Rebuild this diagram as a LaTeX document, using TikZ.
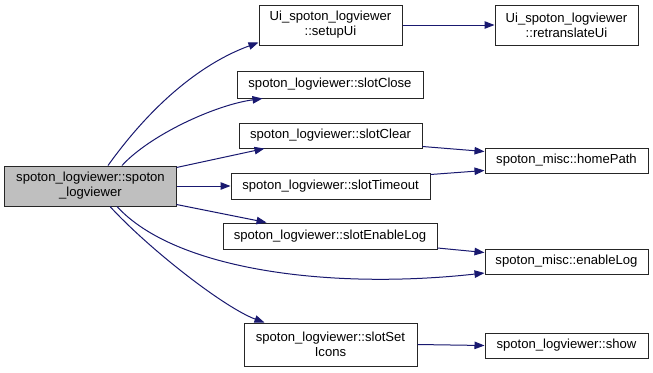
\documentclass[tikz,border=0pt]{standalone}
\usepackage{fontspec}
\setmainfont{Liberation Sans}
\usetikzlibrary{arrows.meta}
\definecolor{callblue}{HTML}{191970}
\definecolor{rootgray}{HTML}{BFBFBF}
\begin{document}
\begin{tikzpicture}[x=1bp,y=-1bp,line width=1bp,font=\fontsize{13.1bp}{15bp}\selectfont,
	fn/.style={draw=black!85,fill=white,inner sep=0pt,align=center,minimum height=25bp},
	call/.style={draw=callblue,-{Triangle[length=10bp,width=7.5bp]}}]
	\fill[white] (0,0) rectangle (653,372);
	\useasboundingbox (0,0) rectangle (653,372);
	\node[fn,fill=rootgray,minimum width=171bp,minimum height=40bp] (ctor) at (90.5,186) {spoton\_logviewer::spoton\\\_logviewer};
	\node[fn,minimum width=143bp,minimum height=40bp] (setupUi) at (330.5,25) {Ui\_spoton\_logviewer\\::setupUi};
	\node[fn,minimum width=143bp,minimum height=40bp] (retranslateUi) at (566.5,25) {Ui\_spoton\_logviewer\\::retranslateUi};
	\node[fn,minimum width=186bp,minimum height=27bp] (slotClose) at (330,84.5) {spoton\_logviewer::slotClose};
	\node[fn,minimum width=183bp] (slotClear) at (330.5,135.5) {spoton\_logviewer::slotClear};
	\node[fn,minimum width=199bp,minimum height=26bp] (slotTimeout) at (330.5,186) {spoton\_logviewer::slotTimeout};
	\node[fn,minimum width=163bp] (homePath) at (566.5,160.5) {spoton\_misc::homePath};
	\node[fn,minimum width=214bp,minimum height=26bp] (slotEnableLog) at (330,236) {spoton\_logviewer::slotEnableLog};
	\node[fn,minimum width=163bp] (enableLog) at (566.5,261.5) {spoton\_misc::enableLog};
	\node[fn,minimum width=173bp,minimum height=43bp] (slotSetIcons) at (330.5,344.5) {spoton\_logviewer::slotSet\\Icons};
	\node[fn,minimum width=163bp] (show) at (566.5,345.5) {spoton\_logviewer::show};
	\draw[call] ([xshift=17.5bp]ctor.north) .. controls (155,100) and (205,62) .. ([yshift=3bp]setupUi.south west);
	\draw[call] ([xshift=31.5bp]ctor.north) .. controls (150,135) and (215,105) .. ([xshift=26bp]slotClose.south west);
	\draw[call] ([yshift=-2bp]ctor.north east) -- ([xshift=26bp]slotClear.south west);
	\draw[call] (ctor.east) -- (slotTimeout.west);
	\draw[call] ([yshift=2bp]ctor.south east) -- ([xshift=44bp]slotEnableLog.north west);
	\draw[call] ([xshift=26.5bp]ctor.south) .. controls (175,270) and (330,290) .. ([yshift=1.5bp]enableLog.south west);
	\draw[call] ([xshift=19.5bp]ctor.south) .. controls (150,250) and (225,308) .. ([xshift=21bp]slotSetIcons.north west);
	\draw[call] (setupUi) -- (retranslateUi);
	\draw[call] ([yshift=2bp]slotClear.south east) -- ([yshift=-4bp]homePath.north west);
	\draw[call] ([yshift=-2bp]slotTimeout.north east) -- ([yshift=3bp]homePath.south west);
	\draw[call] ([yshift=1.5bp]slotEnableLog.south east) -- ([yshift=-4bp]enableLog.north west);
	\draw[call] (slotSetIcons.east) -- (show.west);
\end{tikzpicture}
\end{document}
